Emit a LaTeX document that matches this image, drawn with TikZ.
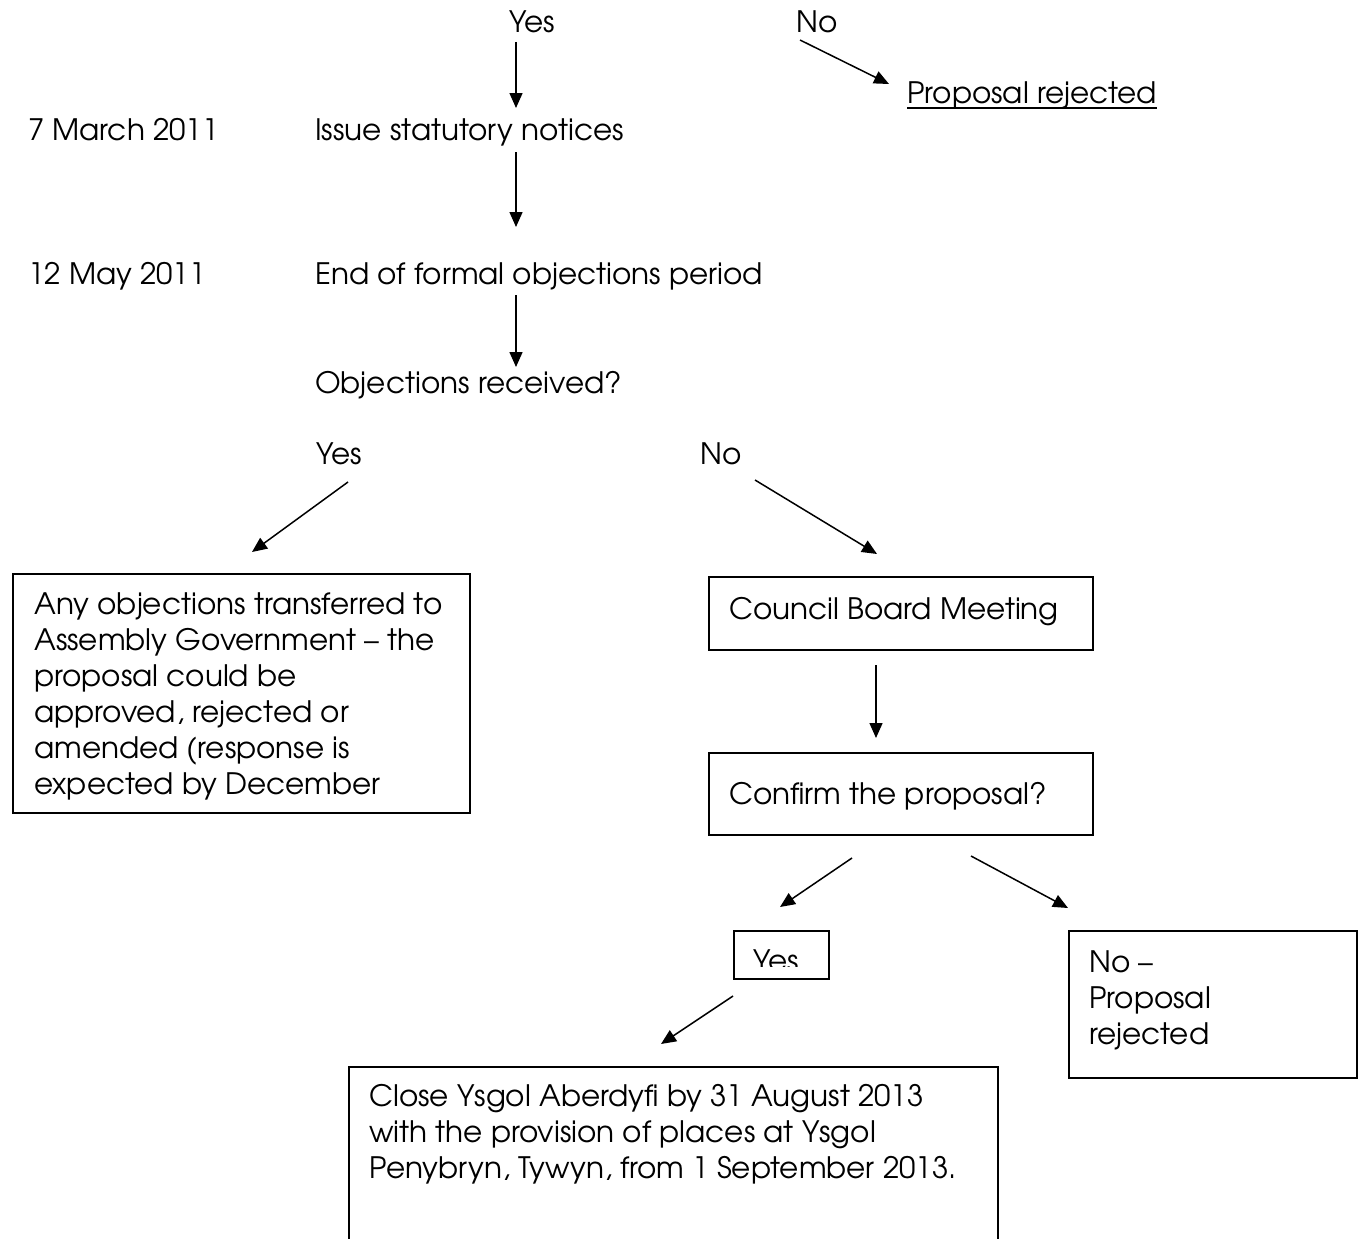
\documentclass[tikz,border=0pt]{standalone}
\usepackage{fontspec}
\setmainfont{TeX Gyre Adventor}
\usetikzlibrary{arrows.meta}
\begin{document}
\begin{tikzpicture}[x=1pt,y=-1pt,
  font=\fontsize{29.5}{36}\selectfont,
  lbl/.style={anchor=base west, inner sep=0pt},
  para/.style={anchor=north west, inner sep=0pt, align=left},
  box/.style={draw, line width=1.6pt, anchor=north west, inner sep=0pt},
  arr/.style={line width=1.5pt, -{Triangle[length=15pt,width=13pt]}}]
\useasboundingbox[fill=white] (0,0) rectangle (1363,1239);

% top labels
\node[lbl] (yes1) at (509,33) {Yes};
\node[lbl] (no1) at (796,33) {No};
\node[lbl] (rej1) at (907,103) {Proposal rejected};
\draw[line width=1.6pt] ([yshift=-5pt]rej1.base west) -- ([yshift=-5pt]rej1.base east);
\node[lbl] (d1) at (28,140) {7 March 2011};
\node[lbl] (issue) at (315,140) {Issue statutory notices};
\node[lbl] (d2) at (28,284) {12 May 2011};
\node[lbl] (endobj) at (315,284) {End of formal objections period};
\node[lbl] (objrec) at (315,393) {Objections received?};
\node[lbl] (yes2) at (316,464) {Yes};
\node[lbl] (no2) at (700,464) {No};

% boxes
\node[box, minimum width=457pt, minimum height=239pt] (assembly) at (12,573) {};
\node[para] (assemblytxt) at (34,592) {Any objections transferred to\\Assembly Government -- the\\proposal could be\\approved, rejected or\\amended (response is\\expected by December};

\node[box, minimum width=384pt, minimum height=73pt] (council) at (708,576) {};
\node[lbl] (counciltxt) at (729,619) {Council Board Meeting};

\node[box, minimum width=384pt, minimum height=82pt] (confirm) at (708,752) {};
\node[lbl] (confirmtxt) at (729,804) {Confirm the proposal?};

\node[box, minimum width=95pt, minimum height=48pt] (yesbox) at (733,930) {};
\begin{scope}
  \clip (735,932) rectangle (826,966.5);
  \node[lbl] (yes3) at (753,971) {Yes};
\end{scope}

\node[box, minimum width=288pt, minimum height=147pt] (nobox) at (1068,930) {};
\node[para] (notxt) at (1089,950) {No --\\Proposal\\rejected};

\node[box, minimum width=649pt, minimum height=200pt] (close) at (348,1066) {};
\node[para] (closetxt) at (369,1084) {Close Ysgol Aberdyfi by 31 August 2013\\with the provision of places at Ysgol\\Penybryn, Tywyn, from 1 September 2013.};

% connector end points
\coordinate (a1s) at (516,42);  \coordinate (a1e) at (516,108);
\coordinate (a2s) at (800,40);  \coordinate (a2e) at (889,84);
\coordinate (a3s) at (516,152); \coordinate (a3e) at (516,227);
\coordinate (a4s) at (516,295); \coordinate (a4e) at (516,367);
\coordinate (a5s) at (348,482); \coordinate (a5e) at (252,552);
\coordinate (a6s) at (755,480); \coordinate (a6e) at (877,554);
\coordinate (a7s) at (876,665); \coordinate (a7e) at (876,738);
\coordinate (a8s) at (852,858); \coordinate (a8e) at (780,907);
\coordinate (a9s) at (971,856); \coordinate (a9e) at (1068,908);
\coordinate (a10s) at (733,996); \coordinate (a10e) at (661,1044);

\draw[arr] (a1s) -- (a1e);
\draw[arr] (a2s) -- (a2e);
\draw[arr] (a3s) -- (a3e);
\draw[arr] (a4s) -- (a4e);
\draw[arr] (a5s) -- (a5e);
\draw[arr] (a6s) -- (a6e);
\draw[arr] (a7s) -- (a7e);
\draw[arr] (a8s) -- (a8e);
\draw[arr] (a9s) -- (a9e);
\draw[arr] (a10s) -- (a10e);
\end{tikzpicture}
\end{document}
